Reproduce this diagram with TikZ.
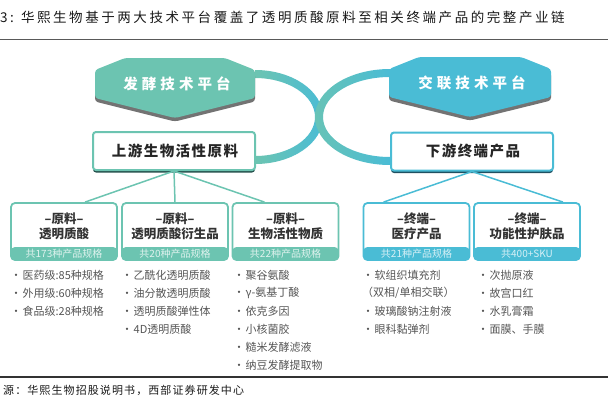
\documentclass[tikz,border=0pt]{standalone}
\usepackage{fontspec}
\setmainfont{Noto Sans CJK SC}
\newfontfamily\titlefont{Noto Sans CJK SC}[LetterSpace=19]
\newfontfamily\hexfont{Noto Sans CJK SC}[LetterSpace=28]
\newfontfamily\upfont{Noto Sans CJK SC}[LetterSpace=10]
\newfontfamily\srcfont{Noto Sans CJK SC}[LetterSpace=10]
\definecolor{tealc}{HTML}{6CC4B1}
\definecolor{bluec}{HTML}{4ABCD5}
\definecolor{tealdark}{HTML}{24504C}
\definecolor{bluedark}{HTML}{1F5061}
\definecolor{txt}{HTML}{333333}
\definecolor{listc}{HTML}{555555}
\newcommand{\bul}{·\hspace{1pt}}
\tikzset{
  upbox/.style={draw=#1, fill=white, line width=2, rounded corners=3,
    minimum width=162, minimum height=38, inner sep=0},
  lbox/.style={draw=#1, fill=white, line width=1.8, rounded corners=4,
    minimum width=106, minimum height=57, inner sep=0,
    path picture={\fill[#1] ([yshift=13pt]path picture bounding box.south west)
      rectangle (path picture bounding box.south east);}},
  ltext/.style={align=center, font=\fontsize{12.5}{15}\selectfont\bfseries, text=txt, inner sep=0},
  band/.style={font=\fontsize{10}{12}\selectfont, text=white!78!#1, inner sep=0},
  item/.style={anchor=west, font=\fontsize{11}{13}\selectfont, text=listc, inner sep=0},
  conn/.style={draw=#1, line width=1.5},
}
\begin{document}
\begin{tikzpicture}[x=1pt,y=-1pt]
\useasboundingbox (0,0) rectangle (608,407);
% title and rules
\node[anchor=west, inner sep=0, font=\fontsize{13.5}{15}\selectfont, text=black!90] (title) at (0,17)
  {\titlefont 3:\hspace{7pt}华熙生物基于两大技术平台覆盖了透明质酸原料至相关终端产品的完整产业链};
\draw[black!65, line width=1.5] (0,39.5) -- (608,39.5);
\draw[black!80, line width=1.8] (0,377) -- (608,377);
\node[anchor=west, inner sep=0, font=\fontsize{11}{13}\selectfont, text=black!90] (src) at (3,390)
  {\srcfont 源：华熙生物招股说明书，西部证券研发中心};

% connecting bands
\shade[left color=tealc, right color=bluec]
  (255,70) arc[start angle=-90, end angle=90, x radius=68, y radius=47]
  -- (255,156) arc[start angle=90, end angle=-90, x radius=60, y radius=39] -- cycle;
\shade[left color=tealc!85!bluec, right color=bluec]
  (390,69) arc[start angle=-90, end angle=-270, x radius=75, y radius=48]
  -- (390,157) arc[start angle=90, end angle=270, x radius=67, y radius=40] -- cycle;

% hexagons
\fill[black!55, rounded corners=3] (95,73.5) -- (125,61.5) -- (225,61.5) -- (255,73.5) -- (255,101.5) -- (175,121.5) -- (95,101.5) -- cycle;
\fill[tealc, rounded corners=3] (95,70) -- (125,58) -- (225,58) -- (255,70) -- (255,98) -- (175,118) -- (95,98) -- cycle;
\node[inner sep=0, font=\fontsize{14.5}{16}\selectfont\bfseries, text=white] (hexL) at (177,84) {\hexfont 发酵技术平台};

\fill[black!55, rounded corners=3] (389,72.5) -- (419,60.5) -- (521,60.5) -- (551,72.5) -- (551,100.5) -- (470,120.5) -- (389,100.5) -- cycle;
\fill[bluec, rounded corners=3] (389,69) -- (419,57) -- (521,57) -- (551,69) -- (551,97) -- (470,117) -- (389,97) -- cycle;
\node[inner sep=0, font=\fontsize{14.5}{16}\selectfont\bfseries, text=white] (hexR) at (472,83) {\hexfont 交联技术平台};

% upper boxes
\fill[tealdark, rounded corners=3] (93,134.5) rectangle (255,172.5);
\node[upbox=tealc] (up) at (174,151) {};
\node[inner sep=0, font=\fontsize{14.5}{16}\selectfont\bfseries, text=black!85] (upt) at (175,151) {\upfont 上游生物活性原料};
\fill[bluedark, rounded corners=3] (391,134.5) rectangle (553,173);
\node[upbox=bluec] (dn) at (472,151.5) {};
\node[inner sep=0, font=\fontsize{14.5}{16}\selectfont\bfseries, text=black!85] (dnt) at (473,151.5) {\upfont 下游终端产品};

% level-3 boxes
\node[lbox=tealc] (b1) at (64,231.5) {};
\node[lbox=tealc] (b2) at (175,231.5) {};
\node[lbox=tealc] (b3) at (285.5,231.5) {};
\node[lbox=bluec] (b4) at (416.5,231.5) {};
\node[lbox=bluec] (b5) at (527,231.5) {};

\draw[conn=tealc] (up.south) -- ([xshift=21pt]b1.north);
\draw[conn=tealc] (up.south) -- (b2.north);
\draw[conn=tealc] (up.south) -- ([xshift=-21pt]b3.north);
\draw[conn=bluec] (dn.south) -- ([xshift=-33pt]b4.north);
\draw[conn=bluec] (dn.south) -- ([xshift=36pt]b5.north);

\node[ltext] (b1t) at (64,226) {–原料–\\透明质酸};
\node[ltext] (b2t) at (175,226) {–原料–\\透明质酸衍生品};
\node[ltext] (b3t) at (285.5,226) {–原料–\\生物活性物质};
\node[ltext] (b4t) at (416.5,226) {–终端–\\医疗产品};
\node[ltext] (b5t) at (527,226) {–终端–\\功能性护肤品};

\node[band=tealc] (b1s) at (64,253.5) {共173种产品规格};
\node[band=tealc] (b2s) at (175,253.5) {共20种产品规格};
\node[band=tealc] (b3s) at (285.5,253.5) {共22种产品规格};
\node[band=bluec] (b4s) at (416.5,253.5) {共21种产品规格};
\node[band=bluec] (b5s) at (527,253.5) {共400+SKU};

% lists
\node[item] (l11) at (10.5,275) {\bul 医药级:85种规格};
\node[item] (l12) at (10.5,293) {\bul 外用级:60种规格};
\node[item] (l13) at (10.5,311) {\bul 食品级:28种规格};

\node[item] (l21) at (121.5,275) {\bul 乙酰化透明质酸};
\node[item] (l22) at (121.5,293) {\bul 油分散透明质酸};
\node[item] (l23) at (121.5,311) {\bul 透明质酸弹性体};
\node[item] (l24) at (121.5,329) {\bul 4D透明质酸};

\node[item] (l31) at (233.5,275) {\bul 聚谷氨酸};
\node[item] (l32) at (233.5,293) {\bul γ-氨基丁酸};
\node[item] (l33) at (233.5,311) {\bul 依克多因};
\node[item] (l34) at (233.5,329) {\bul 小核菌胶};
\node[item] (l35) at (233.5,347) {\bul 糙米发酵滤液};
\node[item] (l36) at (233.5,365) {\bul 纳豆发酵提取物};

\node[item] (l41) at (362.5,275) {\bul 软组织填充剂};
\node[item] (l42) at (362,293) {（双相/单相交联）};
\node[item] (l43) at (362.5,311) {\bul 玻璃酸钠注射液};
\node[item] (l44) at (362.5,329) {\bul 眼科黏弹剂};

\node[item] (l51) at (477.5,275) {\bul 次抛原液};
\node[item] (l52) at (477.5,293) {\bul 故宫口红};
\node[item] (l53) at (477.5,311) {\bul 水乳膏霜};
\node[item] (l54) at (477.5,329) {\bul 面膜、手膜};
\end{tikzpicture}
\end{document}
